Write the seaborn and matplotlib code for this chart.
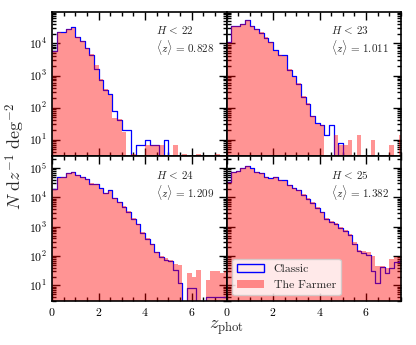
import matplotlib
matplotlib.use('Agg')
import matplotlib.pyplot as plt
import numpy as np
import pandas as pd
import seaborn as sns
from matplotlib.patches import Patch
from matplotlib.ticker import MultipleLocator, LogLocator, NullFormatter

# bins of width 0.2 in z_phot, from 0 to 7.6
bin_edges = np.linspace(0, 7.6, 39)
bin_mid = bin_edges[:-1] + 0.1

cuts = ['22', '23', '24', '25']
mean_z = ['0.828', '1.011', '1.209', '1.382']

# N dz^-1 deg^-2 per bin
classic_22 = [6000, 23000, 22000, 29000, 32000, 16000, 12000, 7000, 4300, 1650,
              710, 360, 260, 78, 42, 20, 20, 0, 6.6, 6.6,
              10, 6.6, 6.6, 0, 10, 0, 0, 0, 0, 0,
              0, 0, 0, 0, 0, 0, 0, 0]
farmer_22 = [6000, 22000, 21000, 28000, 31000, 16000, 11500, 7200, 4600, 2100,
             760, 370, 250, 47, 45, 17, 0, 3.7, 0, 0,
             6.6, 6.6, 6.6, 6.6, 0, 0, 6.6, 0, 3.7, 0,
             0, 3.7, 0, 0, 0, 3.7, 0, 0]
classic_23 = [11000, 35000, 35000, 40000, 53000, 35000, 29000, 21000, 15000, 11000,
              6200, 4300, 4300, 1500, 950, 560, 215, 133, 53, 32,
              28, 14, 28, 0, 8, 0, 0, 0, 0, 0,
              0, 0, 0, 0, 0, 0, 0, 0]
farmer_23 = [11000, 34000, 35000, 39000, 52000, 34000, 28000, 22000, 16000, 11000,
             6000, 4400, 4200, 1550, 900, 580, 225, 140, 55, 30,
             28, 0, 0, 14, 7, 7, 10, 0, 14, 0,
             0, 10, 0, 0, 0, 7, 0, 14]
classic_24 = [19600, 49000, 51000, 69000, 75000, 59000, 51000, 42000, 29000, 29000,
              21000, 14000, 17500, 9700, 7000, 4900, 3200, 1850, 1200, 630,
              380, 250, 135, 95, 75, 66, 35, 12.6, 0, 8,
              8, 0, 0, 4.2, 4.2, 4.2, 4.2, 4.2]
farmer_24 = [19000, 47000, 50000, 67000, 73000, 57000, 50000, 41000, 30000, 28000,
             20000, 14500, 17000, 9500, 7200, 5100, 3400, 2000, 1250, 660,
             400, 260, 140, 100, 85, 75, 54, 50, 0, 27,
             20, 35, 0, 16, 31, 31, 27, 30]
classic_25 = [35000, 75000, 81000, 104000, 117000, 98000, 75000, 67000, 51000, 45000,
              51000, 40000, 38000, 27000, 21000, 17500, 12500, 9100, 6700, 4500,
              3100, 1850, 1500, 1200, 910, 700, 540, 260, 145, 125,
              110, 30, 12.5, 42, 27, 40, 63, 66]
farmer_25 = [34000, 73000, 80000, 101000, 114000, 96000, 74000, 66000, 50000, 44000,
             50000, 39000, 37000, 27000, 21500, 18000, 13000, 9500, 7000, 4700,
             3200, 1950, 1600, 1300, 1000, 750, 560, 310, 160, 145,
             135, 100, 46, 45, 40, 80, 90, 90]

classic = [classic_22, classic_23, classic_24, classic_25]
farmer = [farmer_22, farmer_23, farmer_24, farmer_25]

sns.set_style('ticks')
plt.rcParams.update({
    'font.family': 'serif',
    'font.serif': ['cmr10', 'DejaVu Serif'],
    'mathtext.fontset': 'cm',
    'axes.formatter.use_mathtext': True,
    'axes.linewidth': 1.2,
    'axes.edgecolor': 'black',
    'xtick.color': 'black',
    'ytick.color': 'black',
})

fig, axes = plt.subplots(2, 2, figsize=(4.16, 3.45), dpi=100, sharex=True, sharey='row')
fig.subplots_adjust(left=0.125, right=0.964, top=0.965, bottom=0.128, wspace=0, hspace=0)

for i, ax in enumerate(axes.flat):
    df = pd.DataFrame({'z': bin_mid, 'classic': classic[i], 'farmer': farmer[i]})
    sns.histplot(data=df, x='z', weights='classic', binwidth=0.2, binrange=(0, 7.6),
                 element='step', fill=False, color='blue', linewidth=0.9, ax=ax)
    # The Farmer is drawn over the Classic outline, as in the original
    sns.histplot(data=df, x='z', weights='farmer', binwidth=0.2, binrange=(0, 7.6),
                 element='step', fill=True, color='red', alpha=0.42, linewidth=0,
                 zorder=3, ax=ax)
    ax.set_yscale('log')
    ax.set_xlim(0, 7.5)
    ax.set_xlabel('')
    ax.set_ylabel('')
    ax.text(0.93, 0.915, '$H\\,<\\,%s$\n$\\langle z \\rangle\\,=\\,%s$' % (cuts[i], mean_z[i]),
            transform=ax.transAxes, ha='right', va='top', multialignment='left',
            fontsize=8, linespacing=1.15, zorder=5)
    ax.xaxis.set_major_locator(MultipleLocator(2))
    ax.xaxis.set_minor_locator(MultipleLocator(0.5))
    ax.yaxis.set_major_locator(LogLocator(base=10, numticks=10))
    ax.yaxis.set_minor_locator(LogLocator(base=10, subs=np.arange(2, 10), numticks=20))
    ax.yaxis.set_minor_formatter(NullFormatter())
    ax.tick_params(which='both', direction='in', top=True, right=True, labelsize=8.5, width=1.0)
    ax.tick_params(which='major', length=6)
    ax.tick_params(which='minor', length=3)
    for sp in ax.spines.values():
        sp.set_visible(True)
        sp.set_zorder(6)

axes[0, 0].set_ylim(3, 9.5e4)
axes[1, 0].set_ylim(3, 2.5e5)

handles = [Patch(facecolor='none', edgecolor='blue', linewidth=1.0),
           Patch(facecolor='red', alpha=0.42, linewidth=0)]
leg = axes[1, 1].legend(handles, ['Classic', 'The Farmer'], loc='lower left', fontsize=8.5,
                        frameon=True, framealpha=0.8, edgecolor='0.8', handlelength=2.3)
leg.set_zorder(7)

fig.text(0.036, 0.548, '$N\\ \\mathrm{d}z^{-1}\\ \\mathrm{deg}^{-2}$', rotation=90,
         ha='center', va='center', fontsize=13)
fig.text(0.545, 0.05, '$z_{\\rm phot}$', ha='center', va='center', fontsize=13)

fig.savefig('out.png', dpi=100)
